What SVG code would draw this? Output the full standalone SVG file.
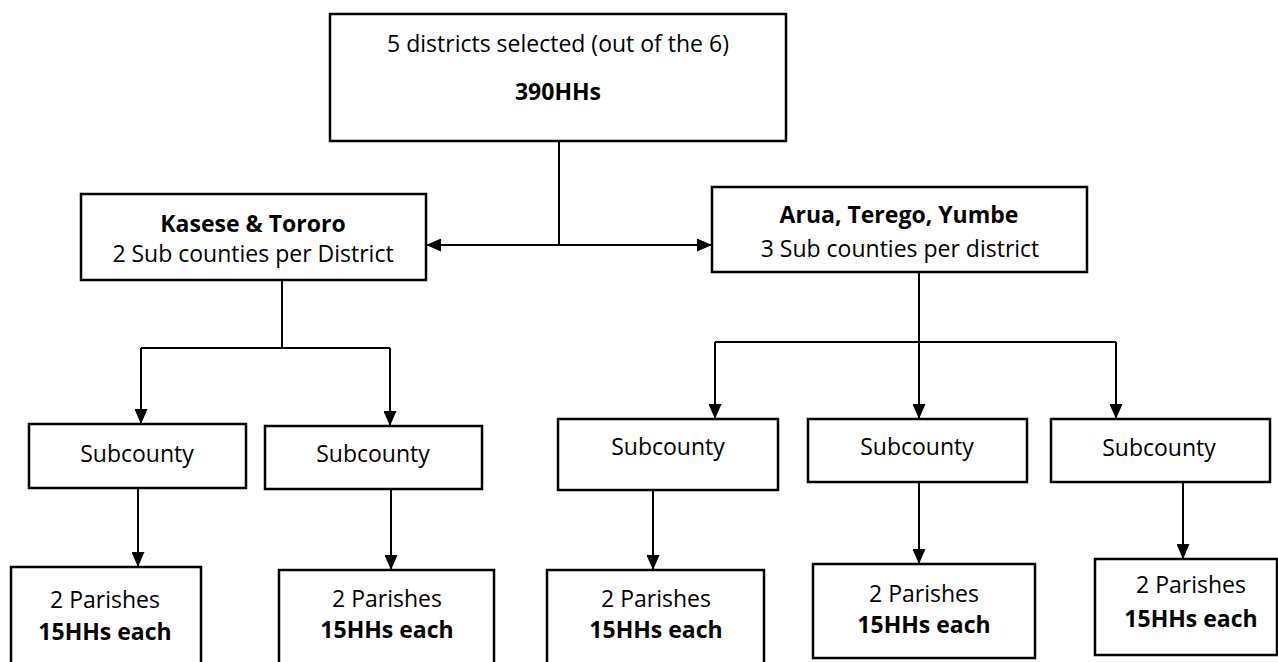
<svg xmlns="http://www.w3.org/2000/svg" width="1278" height="662" viewBox="0 0 1278 662">
<defs>
<style>
.box{fill:#fff;stroke:#000;stroke-width:2.5}
.t{font-family:"Open Sans","Noto Sans",sans-serif;font-size:23px;fill:#000;text-anchor:middle}
.b{font-weight:bold}
.c{fill:none;stroke:#000;stroke-width:2}
</style>
<marker id="ah" markerUnits="userSpaceOnUse" markerWidth="15" markerHeight="13" refX="15" refY="6.5" orient="auto-start-reverse">
<path d="M0,0 L15,6.5 L0,13 Z" fill="#000"/>
</marker>
</defs>
<rect width="1278" height="662" fill="#fff"/>
<g id="connectors">
<line class="c" x1="559" y1="141" x2="559" y2="245"/>
<line class="c" x1="426" y1="245" x2="712" y2="245" marker-start="url(#ah)" marker-end="url(#ah)"/>
<line class="c" x1="282" y1="280" x2="282" y2="348"/>
<line class="c" x1="141" y1="348" x2="390" y2="348"/>
<line class="c" x1="141" y1="348" x2="141" y2="424" marker-end="url(#ah)"/>
<line class="c" x1="390" y1="348" x2="390" y2="426" marker-end="url(#ah)"/>
<line class="c" x1="919" y1="272" x2="919" y2="342"/>
<line class="c" x1="715" y1="342" x2="1116" y2="342"/>
<line class="c" x1="715" y1="342" x2="715" y2="419" marker-end="url(#ah)"/>
<line class="c" x1="919" y1="342" x2="919" y2="419" marker-end="url(#ah)"/>
<line class="c" x1="1116" y1="342" x2="1116" y2="419" marker-end="url(#ah)"/>
<line class="c" x1="138" y1="488" x2="138" y2="567" marker-end="url(#ah)"/>
<line class="c" x1="391" y1="489" x2="391" y2="570" marker-end="url(#ah)"/>
<line class="c" x1="653" y1="490" x2="653" y2="570" marker-end="url(#ah)"/>
<line class="c" x1="919" y1="482" x2="919" y2="564" marker-end="url(#ah)"/>
<line class="c" x1="1183" y1="482" x2="1183" y2="559" marker-end="url(#ah)"/>
</g>
<g id="top">
<rect class="box" x="330" y="14" width="456" height="127"/>
<text class="t" x="558" y="52">5 districts selected (out of the 6)</text>
<text class="t b" x="558" y="100">390HHs</text>
</g>
<g id="kasese">
<rect class="box" x="81" y="194" width="345" height="86"/>
<text class="t b" x="253" y="232">Kasese &amp; Tororo</text>
<text class="t" x="253" y="262">2 Sub counties per District</text>
</g>
<g id="arua">
<rect class="box" x="712" y="187" width="375" height="85"/>
<text class="t b" x="899" y="223">Arua, Terego, Yumbe</text>
<text class="t" x="900" y="257">3 Sub counties per district</text>
</g>
<g id="sub1">
<rect class="box" x="29" y="424" width="217" height="64"/>
<text class="t" x="137" y="462">Subcounty</text>
</g>
<g id="sub2">
<rect class="box" x="265" y="426" width="217" height="63"/>
<text class="t" x="373" y="462">Subcounty</text>
</g>
<g id="sub3">
<rect class="box" x="558" y="419" width="220" height="71"/>
<text class="t" x="668" y="455">Subcounty</text>
</g>
<g id="sub4">
<rect class="box" x="808" y="419" width="219" height="63"/>
<text class="t" x="917" y="455">Subcounty</text>
</g>
<g id="sub5">
<rect class="box" x="1051" y="419" width="219" height="63"/>
<text class="t" x="1159" y="456">Subcounty</text>
</g>
<g id="par1">
<rect class="box" x="11" y="567" width="190" height="105"/>
<text class="t" x="105" y="608">2 Parishes</text>
<text class="t b" x="105" y="640">15HHs each</text>
</g>
<g id="par2">
<rect class="box" x="279" y="570" width="215" height="102"/>
<text class="t" x="387" y="607">2 Parishes</text>
<text class="t b" x="387" y="638">15HHs each</text>
</g>
<g id="par3">
<rect class="box" x="547" y="570" width="217" height="102"/>
<text class="t" x="656" y="607">2 Parishes</text>
<text class="t b" x="656" y="638">15HHs each</text>
</g>
<g id="par4">
<rect class="box" x="813" y="564" width="222" height="94"/>
<text class="t" x="924" y="602">2 Parishes</text>
<text class="t b" x="924" y="633">15HHs each</text>
</g>
<g id="par5">
<rect class="box" x="1095" y="559" width="182" height="96"/>
<text class="t" x="1191" y="593">2 Parishes</text>
<text class="t b" x="1191" y="627">15HHs each</text>
</g>
</svg>
